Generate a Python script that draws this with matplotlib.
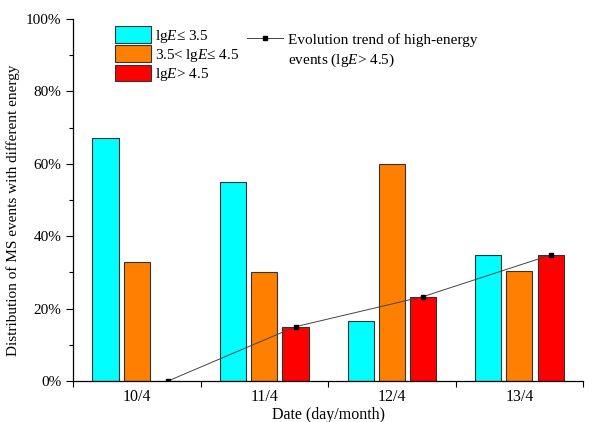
import matplotlib
matplotlib.use("Agg")
import matplotlib.pyplot as plt
from matplotlib.patches import Patch
from matplotlib.lines import Line2D
from matplotlib.ticker import MultipleLocator, FixedLocator, FuncFormatter
import numpy as np

plt.rcParams['font.family'] = ['Liberation Serif', 'DejaVu Serif']
plt.rcParams['mathtext.fontset'] = 'custom'
plt.rcParams['mathtext.rm'] = 'Liberation Serif'
plt.rcParams['mathtext.it'] = 'Liberation Serif:italic'

dates = ["10/4", "11/4", "12/4", "13/4"]
low_energy = [67.0, 55.0, 16.7, 34.8]      # lgE <= 3.5
mid_energy = [33.0, 30.0, 60.0, 30.4]      # 3.5 < lgE <= 4.5
high_energy = [0.0, 15.0, 23.3, 34.8]      # lgE > 4.5

colors = ["#00ffff", "#ff8000", "#ff0000"]
labels = ["lg$E$≤ 3.5", "3.5< lg$E$≤ 4.5", "lg$E$> 4.5"]

fig = plt.figure(figsize=(5.95, 4.22), dpi=100)
ax = fig.add_axes([0.1227, 0.0972, 0.8573, 0.8578])

x = np.arange(len(dates))
w = 0.205
off = 0.245
for i, (vals, c) in enumerate(zip([low_energy, mid_energy, high_energy], colors)):
    ax.bar(x + (i - 1) * off, vals, width=w, color=c, edgecolor="#333333", linewidth=0.8, zorder=2)

ax.plot(x + off, high_energy, color="#444444", linewidth=0.7, marker="s", markersize=3.5,
        markerfacecolor="black", markeredgecolor="black", zorder=3)

ax.set_xlim(-0.5, 3.5)
ax.set_ylim(0, 100)
ax.spines['top'].set_visible(False)
ax.spines['right'].set_visible(False)
for s in ['left', 'bottom']:
    ax.spines[s].set_linewidth(0.9)

ax.xaxis.set_major_locator(FixedLocator([-0.5, 0.5, 1.5, 2.5, 3.5]))
ax.xaxis.set_major_formatter(FuncFormatter(lambda v, p: ""))
ax.xaxis.set_minor_locator(FixedLocator(x))
ax.set_xticklabels(dates, minor=True)
ax.tick_params(axis='x', which='major', direction='out', length=4, width=0.8)
ax.tick_params(axis='x', which='minor', length=0, labelsize=11.5, pad=6)

ax.yaxis.set_major_locator(MultipleLocator(20))
ax.yaxis.set_minor_locator(MultipleLocator(10))
ax.yaxis.set_major_formatter(FuncFormatter(lambda v, p: f"{v:.0f}%"))
ax.tick_params(axis='y', which='major', direction='out', length=5, width=0.8, labelsize=11)
ax.tick_params(axis='y', which='minor', direction='out', length=3, width=0.8)

ax.set_xlabel("Date (day/month)", fontsize=11.5, labelpad=1)
ax.set_ylabel("Distribution of MS events with different energy", fontsize=11)
ax.yaxis.set_label_coords(-0.104, 0.472)

handles = [Patch(facecolor=c, edgecolor="#333333", linewidth=0.8) for c in colors]
leg1 = ax.legend(handles, labels, loc='upper left', bbox_to_anchor=(0.07, 0.997),
                 frameon=False, fontsize=11, handlelength=2.4, handleheight=1.3,
                 handletextpad=0.25, labelspacing=0.05, borderaxespad=0)
ax.add_artist(leg1)
line_handle = Line2D([], [], color="#444444", linewidth=0.7, marker="s", markersize=3.5,
                     markerfacecolor="black", markeredgecolor="black")
blank_handle = Line2D([], [], color="none")
ax.legend([line_handle, blank_handle], ["Evolution trend of high-energy", "events (lg$E$> 4.5)"],
          loc='upper left', bbox_to_anchor=(0.33, 0.978), frameon=False, fontsize=11,
          handlelength=2.3, handletextpad=0.35, labelspacing=0.3, borderaxespad=0)

fig.savefig("out.png", dpi=100)
